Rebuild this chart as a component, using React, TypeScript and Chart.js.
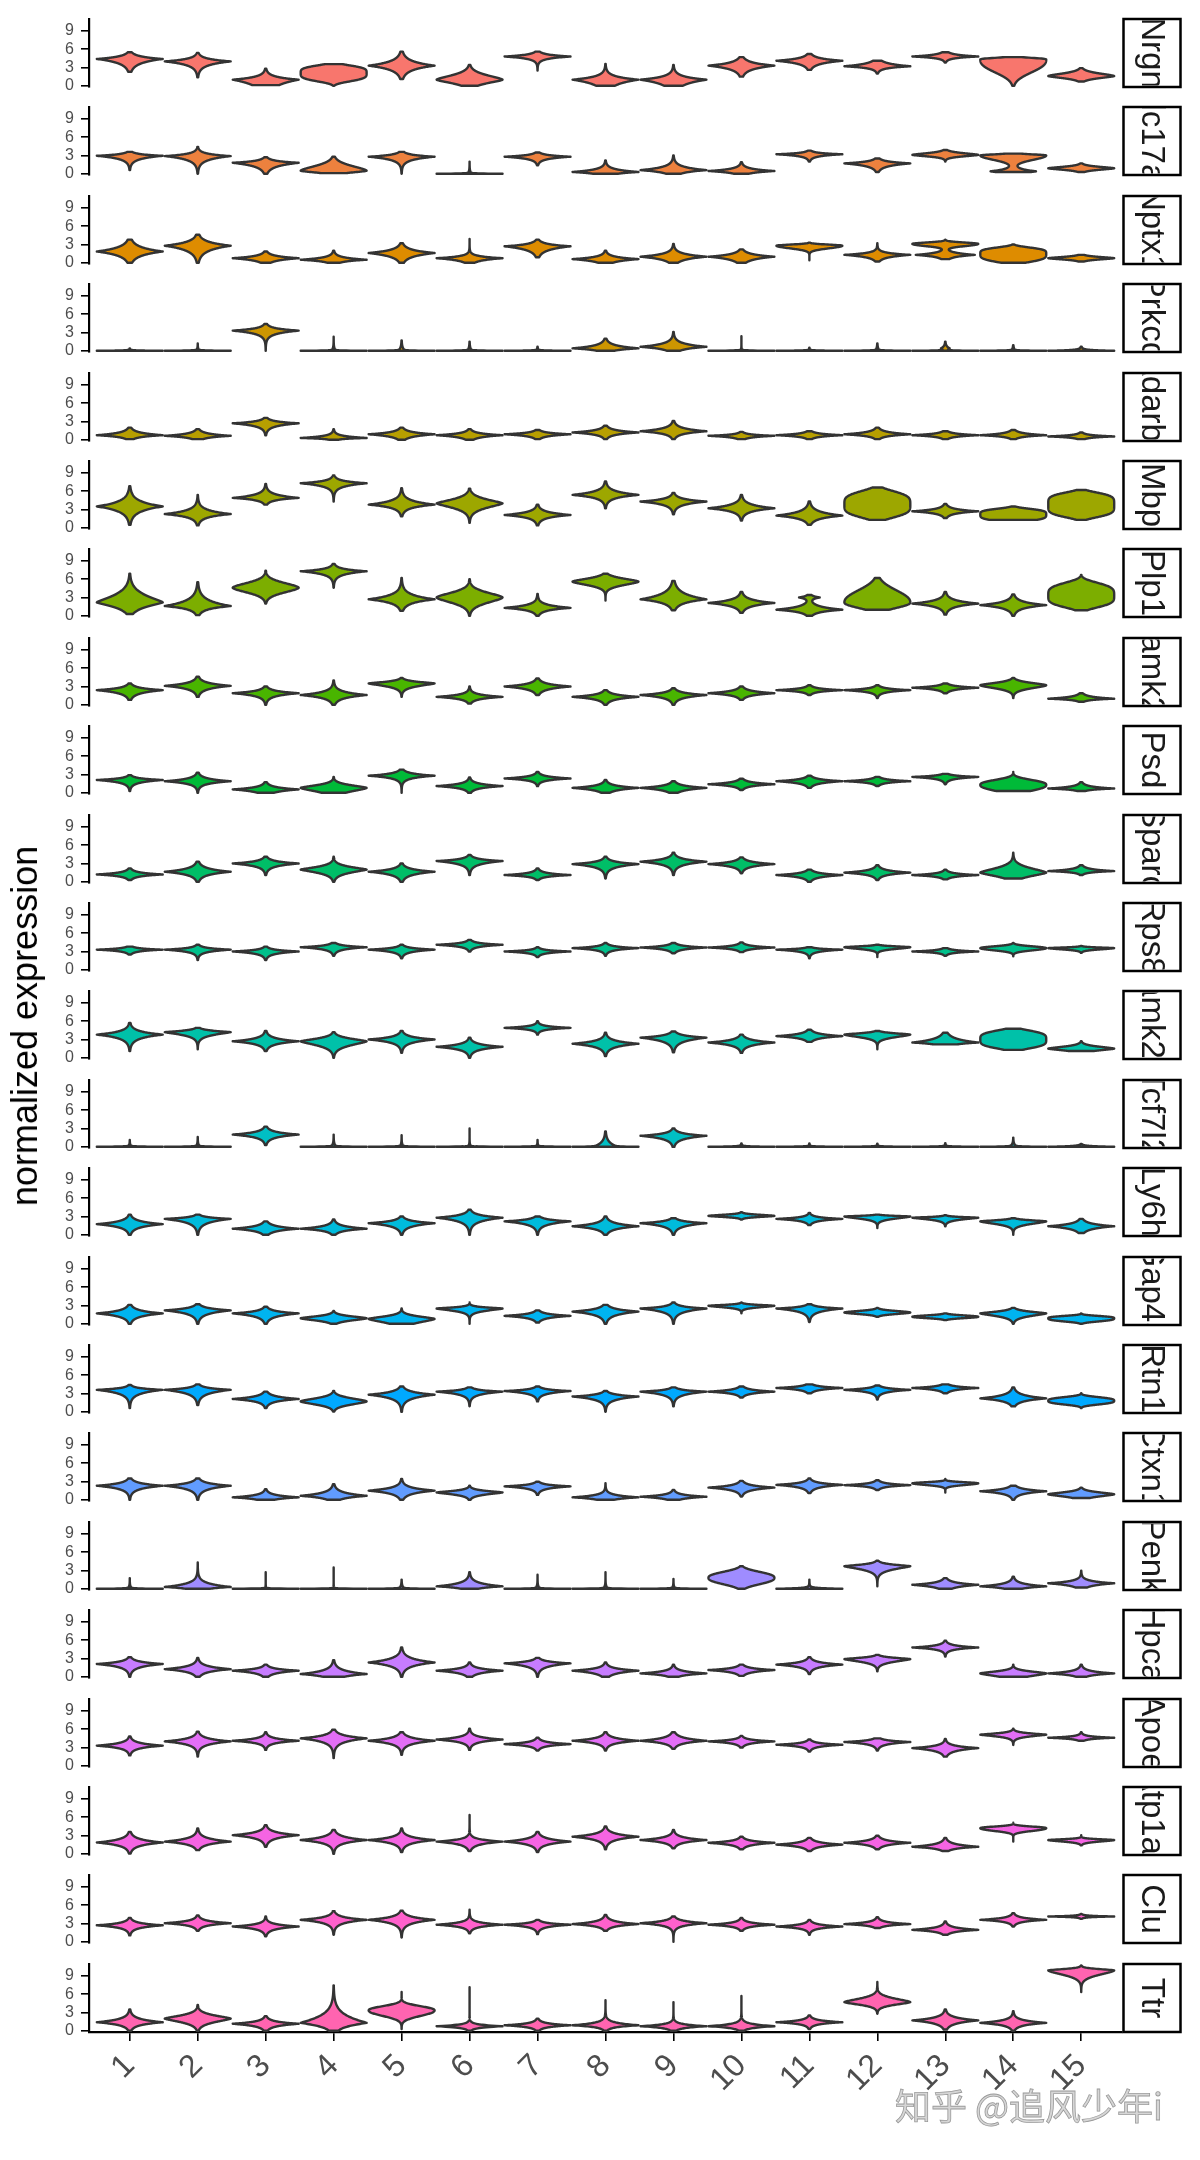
import React, { useEffect, useRef } from "react";
import { Chart, registerables } from "chart.js";
Chart.register(...registerables);

// ---------- data ----------
const CLUSTERS = ["1", "2", "3", "4", "5", "6", "7", "8", "9", "10", "11", "12", "13", "14", "15"];
const GENES = ["Nrgn", "Slc17a7", "Nptx1", "Prkcd", "Adarb1", "Mbp", "Plp1", "Camk2a", "Psd", "Sparc", "Rps8", "Camk2n1",
  "Tcf7l2", "Ly6h", "Gap43", "Rtn1", "Ctxn1", "Penk", "Hpca", "Apoe", "Atp1a2", "Clu", "Ttr"];
const Y_TICKS = [0, 3, 6, 9];
const Y_LABEL = "normalized expression";

// each violin: [min, mode, max, spreadBelow, spreadAbove, sharpness?, mode2?, spread2?, weight2?]
const NRGN = [[2.3, 4.4, 5.5, 0.7, 0.4], [1.4, 4.0, 5.4, 0.6, 0.4], [0.1, 1.0, 2.8, 1.0, 0.45], [0, 2.1, 3.55, 1.5, 1.35, 4], [1.1, 3.3, 5.6, 0.7, 0.7],
  [0, 1.0, 3.4, 0.8, 1.0, 1.5], [2.5, 4.8, 5.6, 0.35, 0.3], [0, 1.0, 3.6, 0.8, 0.5], [0, 1.0, 3.4, 0.8, 0.5], [1.5, 3.3, 4.7, 0.6, 0.5],
  [2.6, 4.1, 5.2, 0.5, 0.4], [2.0, 3.2, 4.1, 0.3, 0.45], [3.8, 4.8, 5.5, 0.25, 0.3], [0, 4.3, 4.7, 2.6, 0.35, 2.5], [0.7, 1.6, 2.9, 0.5, 0.6, 1.5]];
const SLC17A7 = [[0.6, 2.95, 3.6, 0.5, 0.25], [0, 2.9, 4.4, 0.6, 0.35], [0, 1.8, 2.7, 0.6, 0.3], [0.1, 0.5, 2.8, 0.4, 1.1, 1.6], [0, 2.8, 3.6, 0.5, 0.3],
  [0, 0, 2.0, 0.05, 0.04, 1, 0, 0.35, 0.08], [1.4, 2.8, 3.5, 0.35, 0.25], [0, 0.3, 2.2, 0.3, 0.4], [0, 0.6, 3.0, 0.4, 0.5], [0, 0.45, 1.9, 0.3, 0.35],
  [2.0, 3.2, 3.8, 0.3, 0.2], [0.3, 1.7, 2.5, 0.45, 0.3], [2.0, 3.1, 3.9, 0.35, 0.4, 1.5], [0.3, 3.0, 3.3, 1.0, 0.25, 2, 0.4, 0.4, 0.7], [0.3, 0.9, 1.7, 0.35, 0.35, 1.5]];
const NPTX1 = [[0, 1.85, 3.8, 0.7, 0.7], [0, 2.8, 4.6, 0.8, 0.6], [0, 0.75, 1.85, 0.4, 0.35], [0, 0.5, 2.0, 0.3, 0.35], [0, 1.6, 3.2, 0.6, 0.5],
  [0, 0.75, 3.9, 0.4, 0.3], [0.9, 2.7, 3.8, 0.6, 0.35], [0, 0.6, 2.0, 0.4, 0.35], [0, 1.0, 3.1, 0.5, 0.45], [0, 1.0, 2.2, 0.5, 0.4],
  [0.4, 2.8, 3.3, 0.6, 0.25, 2], [0.2, 1.3, 3.2, 0.4, 0.3], [0.6, 3.1, 3.8, 0.5, 0.3, 2, 1.3, 0.35, 0.9], [0, 1.5, 3.0, 1.5, 1.1, 4], [0.2, 0.75, 1.3, 0.3, 0.3, 1.5]];
const PRKCD = [[0, 0, 0.4, 0.05, 0.04, 1, 0, 0.15, 0.08], [0, 0, 1.2, 0.05, 0.04, 1, 0, 0.25, 0.08], [0, 3.3, 4.4, 0.5, 0.35], [0, 0, 2.3, 0.05, 0.04, 1, 0, 0.4, 0.08], [0, 0, 1.7, 0.05, 0.04, 1, 0, 0.5, 0.12],
  [0, 0, 1.5, 0.05, 0.04, 1, 0, 0.45, 0.08], [0, 0, 0.65, 0.05, 0.04, 1, 0, 0.25, 0.06], [0, 0.4, 2.0, 0.3, 0.45], [0, 0.65, 3.1, 0.4, 0.5], [0, 0, 2.4, 0.05, 0.04, 1, 0, 0.2, 0.05],
  [0, 0, 0.5, 0.05, 0.04, 1, 0, 0.2, 0.05], [0, 0, 1.2, 0.05, 0.04, 1, 0, 0.4, 0.08], [0, 0, 1.5, 0.05, 0.04, 1, 0.4, 0.35, 0.14], [0, 0, 0.9, 0.05, 0.04, 1, 0, 0.35, 0.08], [0, 0, 0.65, 0.05, 0.1, 1, 0, 0.3, 0.15]];
const ADARB1 = [[0.1, 0.75, 2.0, 0.3, 0.4], [0.1, 0.65, 1.75, 0.3, 0.35], [0.75, 2.7, 3.6, 0.45, 0.3], [0, 0.3, 1.75, 0.15, 0.3], [0, 0.9, 2.0, 0.4, 0.35],
  [0, 0.75, 1.75, 0.35, 0.3], [0.1, 0.9, 1.6, 0.3, 0.25], [0.1, 1.2, 2.3, 0.35, 0.35], [0.1, 1.4, 3.1, 0.4, 0.45], [0.1, 0.65, 1.3, 0.25, 0.2],
  [0.1, 0.75, 1.4, 0.25, 0.25], [0.1, 0.9, 2.0, 0.3, 0.35], [0.1, 0.75, 1.4, 0.25, 0.25], [0.1, 0.75, 1.6, 0.25, 0.3], [0.1, 0.55, 1.2, 0.2, 0.2]];
const MBP = [[0.5, 3.5, 6.8, 0.8, 0.8], [0.4, 2.25, 5.4, 0.5, 0.6], [3.8, 4.9, 7.2, 0.35, 0.5], [4.3, 7.3, 8.6, 0.5, 0.35], [1.9, 3.8, 6.5, 0.5, 0.6],
  [0.8, 4.0, 6.4, 1.0, 0.9, 1.4], [0.4, 2.1, 3.8, 0.45, 0.45], [3.2, 5.4, 7.6, 0.5, 0.55], [2.2, 4.3, 5.7, 0.5, 0.4], [1.2, 3.2, 5.4, 0.5, 0.55],
  [0.5, 2.0, 4.3, 0.5, 0.6], [1.3, 3.8, 6.6, 2.3, 2.4, 4], [1.6, 2.7, 3.9, 0.35, 0.35], [1.3, 2.2, 3.5, 1.2, 1.0, 4], [1.3, 3.8, 6.2, 2.2, 2.1, 5]];
const PLP1 = [[0.3, 2.2, 6.9, 1.0, 1.5, 1.3], [0.1, 1.6, 5.5, 0.5, 0.9], [2.0, 4.6, 7.4, 1.1, 1.1, 1.7], [4.6, 7.3, 8.5, 0.5, 0.35], [0.8, 2.7, 6.2, 0.6, 0.7],
  [0, 3.0, 6.0, 1.2, 1.1, 1.6], [0, 1.3, 3.6, 0.4, 0.45], [2.5, 5.6, 6.9, 0.8, 0.7, 1.6], [0.9, 2.7, 5.7, 0.6, 0.9], [0.5, 2.1, 3.9, 0.5, 0.5],
  [0, 1.0, 3.4, 0.4, 0.5, 1, 3.0, 0.25, 0.3], [1.0, 2.2, 6.2, 1.2, 2.6, 2.2], [0.2, 2.0, 3.9, 0.5, 0.5], [0, 1.75, 3.5, 0.5, 0.5], [0.9, 3.3, 6.7, 2.1, 2.3, 4]];
const CAMK2A = [[0.8, 2.4, 3.5, 0.5, 0.35], [1.3, 3.1, 4.6, 0.5, 0.45], [0, 1.9, 3.0, 0.45, 0.35], [0, 1.6, 4.0, 0.5, 0.5], [1.3, 3.5, 4.4, 0.6, 0.35, 1.3],
  [0.2, 1.3, 3.0, 0.35, 0.35], [1.6, 3.0, 4.3, 0.45, 0.4], [0, 1.3, 2.4, 0.4, 0.35], [0, 1.6, 2.7, 0.45, 0.35], [0.8, 1.9, 3.0, 0.35, 0.35],
  [1.6, 2.4, 3.2, 0.25, 0.25], [1.1, 2.4, 3.2, 0.3, 0.25], [1.9, 2.8, 3.5, 0.3, 0.25], [1.1, 3.2, 4.4, 0.7, 0.55, 1.6], [0.5, 1.0, 1.9, 0.2, 0.3]];
const PSD = [[0.3, 2.1, 2.9, 0.4, 0.25], [0, 1.9, 3.3, 0.4, 0.4], [0, 0.55, 1.75, 0.4, 0.35], [0, 0.8, 2.6, 0.8, 0.6, 1.5], [0, 2.8, 3.8, 0.4, 0.35],
  [0, 1.1, 2.5, 0.35, 0.35], [1.1, 2.35, 3.4, 0.3, 0.3], [0, 0.8, 2.1, 0.4, 0.35], [0, 0.8, 1.9, 0.4, 0.35], [0.45, 1.4, 2.3, 0.3, 0.3],
  [0.8, 1.9, 2.8, 0.35, 0.3], [1.1, 1.9, 2.6, 0.25, 0.25], [1.4, 2.6, 3.1, 0.3, 0.2], [0.3, 1.3, 3.4, 1.2, 1.0, 2.5], [0.3, 0.7, 1.75, 0.2, 0.3]];
const SPARC = [[0.3, 1.2, 2.2, 0.3, 0.3], [0, 1.65, 3.3, 0.5, 0.5], [1.1, 3.0, 4.1, 0.45, 0.35], [0, 2.0, 4.1, 0.7, 0.6, 1.3], [0, 1.65, 3.0, 0.5, 0.4],
  [1.1, 3.4, 4.4, 0.5, 0.3], [0.3, 1.1, 2.2, 0.25, 0.3], [0.55, 2.9, 4.1, 0.5, 0.35], [1.1, 3.3, 4.75, 0.5, 0.4], [1.4, 2.9, 4.0, 0.4, 0.35],
  [0, 1.1, 2.0, 0.35, 0.3], [0.3, 1.5, 2.7, 0.35, 0.35], [0.4, 1.1, 2.0, 0.25, 0.25], [0.55, 1.5, 4.75, 0.8, 1.0, 1.5], [1.1, 1.75, 2.7, 0.2, 0.3]];
const RPS8 = [[2.5, 3.3, 3.8, 0.25, 0.2], [1.6, 3.3, 4.1, 0.35, 0.25], [1.6, 3.0, 3.8, 0.35, 0.25], [2.3, 3.7, 4.4, 0.35, 0.25], [1.9, 3.3, 4.1, 0.35, 0.25],
  [3.0, 4.1, 4.9, 0.3, 0.25], [2.1, 3.0, 3.7, 0.25, 0.2], [2.3, 3.55, 4.4, 0.3, 0.25], [2.7, 3.65, 4.4, 0.3, 0.25], [2.9, 3.65, 4.5, 0.25, 0.25],
  [1.9, 3.3, 3.7, 0.3, 0.15], [2.1, 3.7, 4.1, 0.4, 0.2, 1.6], [2.3, 3.0, 3.55, 0.2, 0.2], [2.2, 3.55, 4.4, 0.5, 0.4, 2], [2.8, 3.55, 3.9, 0.3, 0.15, 1.6]];
const CAMK2N1 = [[1.1, 3.8, 5.7, 0.6, 0.5], [1.4, 4.2, 4.9, 0.6, 0.3, 1.2], [1.1, 2.7, 4.4, 0.45, 0.45], [0, 2.7, 4.2, 0.9, 0.6, 1.4], [0.8, 3.0, 4.4, 0.5, 0.4],
  [0, 1.8, 3.3, 0.45, 0.4], [3.8, 4.9, 6.0, 0.25, 0.25], [0.3, 2.3, 4.1, 0.5, 0.45], [0.9, 3.3, 4.3, 0.6, 0.35], [0.8, 2.5, 3.8, 0.45, 0.4],
  [2.6, 3.55, 4.6, 0.35, 0.35], [1.4, 3.8, 4.4, 0.6, 0.3, 1.5], [2.2, 2.5, 4.1, 0.3, 0.6], [1.3, 3.0, 4.75, 1.6, 1.6, 4], [1.1, 1.5, 2.7, 0.4, 0.45, 1.5]];
const TCF7L2 = [[0, 0, 1.1, 0.05, 0.04, 1, 0, 0.25, 0.08], [0, 0, 1.6, 0.05, 0.04, 1, 0, 0.35, 0.08], [0.3, 2.0, 3.3, 0.45, 0.4], [0, 0, 2.0, 0.05, 0.04, 1, 0, 0.4, 0.1], [0, 0, 1.9, 0.05, 0.04, 1, 0, 0.35, 0.08],
  [0, 0, 3.0, 0.05, 0.04, 1, 0, 0.3, 0.06], [0, 0, 1.1, 0.05, 0.04, 1, 0, 0.25, 0.06], [0, 0, 2.5, 0.05, 0.04, 1, 0, 0.7, 0.6], [0, 1.8, 3.0, 0.5, 0.35], [0, 0, 0.55, 0.05, 0.05, 1, 0, 0.2, 0.1],
  [0, 0, 0.55, 0.05, 0.04, 1, 0, 0.2, 0.06], [0, 0, 0.5, 0.05, 0.04, 1, 0, 0.2, 0.06], [0, 0, 0.6, 0.05, 0.04, 1, 0, 0.2, 0.08], [0, 0, 1.5, 0.05, 0.04, 1, 0, 0.35, 0.15], [0, 0, 0.45, 0.05, 0.1, 1, 0, 0.2, 0.1]];
const LY6H = [[0, 1.75, 3.3, 0.5, 0.45], [0, 2.6, 3.3, 0.6, 0.25], [0, 1.0, 2.2, 0.4, 0.4], [0, 1.0, 2.5, 0.35, 0.4], [0, 1.9, 3.0, 0.5, 0.35],
  [0, 2.8, 4.1, 0.6, 0.4], [0, 2.2, 3.0, 0.5, 0.3], [0, 1.4, 3.0, 0.45, 0.45], [0, 1.9, 2.7, 0.5, 0.3], [2.5, 3.1, 3.7, 0.25, 0.25, 1.6],
  [1.6, 2.6, 3.6, 0.3, 0.25], [1.1, 3.0, 3.3, 0.5, 0.15, 1.5], [1.4, 2.8, 3.2, 0.4, 0.15, 1.3], [0, 2.2, 2.7, 0.6, 0.25, 1.5], [0.3, 1.4, 2.6, 0.45, 0.4]];
const GAP43 = [[0, 1.7, 3.1, 0.5, 0.45], [0, 2.2, 3.2, 0.55, 0.35], [0, 1.7, 2.8, 0.5, 0.35], [0, 0.9, 2.1, 0.5, 0.45, 1.5], [0, 0.8, 2.5, 0.8, 0.55, 1.5],
  [0, 2.5, 3.5, 0.5, 0.25, 1.3], [0.2, 1.3, 2.2, 0.35, 0.3], [0, 2.0, 3.1, 0.55, 0.4], [0, 2.5, 3.5, 0.55, 0.3], [1.7, 2.95, 3.5, 0.35, 0.2, 1.5],
  [0.3, 2.5, 3.2, 0.5, 0.25], [1.15, 1.85, 2.6, 0.35, 0.35, 1.8], [0.6, 1.15, 1.7, 0.3, 0.3, 2], [0, 1.7, 2.6, 0.6, 0.4, 1.4], [0, 0.9, 1.7, 0.6, 0.45, 3]];
const RTN1 = [[0.6, 3.6, 4.4, 0.6, 0.25], [1.1, 3.6, 4.5, 0.6, 0.3], [0.6, 2.1, 3.3, 0.4, 0.4], [0.05, 1.7, 3.4, 0.7, 0.7, 1.6], [0, 2.8, 4.15, 0.6, 0.45],
  [0.9, 3.3, 4.0, 0.45, 0.25], [1.7, 3.4, 4.15, 0.4, 0.25], [0, 2.5, 3.4, 0.5, 0.3], [0.9, 3.3, 4.0, 0.5, 0.25], [2.35, 3.3, 4.15, 0.3, 0.3],
  [3.05, 3.9, 4.5, 0.3, 0.25], [2.0, 3.6, 4.3, 0.35, 0.25], [3.05, 3.9, 4.5, 0.3, 0.25], [0.9, 2.2, 4.0, 0.45, 0.5], [0.6, 1.8, 3.05, 0.7, 0.7, 3]];
const CTXN1 = [[0, 2.3, 3.5, 0.5, 0.4], [0, 2.3, 3.5, 0.55, 0.4], [0, 0.4, 1.75, 0.3, 0.35], [0, 0.65, 2.55, 0.4, 0.5], [0, 1.5, 3.4, 0.5, 0.45],
  [0, 1.2, 2.3, 0.45, 0.35, 1.3], [0.8, 2.2, 2.95, 0.35, 0.25], [0, 0.4, 2.7, 0.3, 0.35], [0, 0.5, 1.6, 0.3, 0.3], [0.55, 2.0, 3.1, 0.4, 0.35],
  [1.1, 2.45, 3.5, 0.4, 0.3], [1.6, 2.4, 3.2, 0.25, 0.25], [1.2, 2.7, 3.4, 0.4, 0.25, 1.8], [0, 1.4, 2.3, 0.4, 0.35], [0.3, 0.9, 2.0, 0.5, 0.45, 1.5]];
const PENK = [[0, 0, 1.75, 0.05, 0.04, 1, 0, 0.3, 0.1], [0, 0.3, 4.3, 0.3, 0.55], [0, 0, 2.7, 0.05, 0.04, 1, 0, 0.2, 0.04], [0, 0, 3.5, 0.05, 0.04, 1, 0, 0.2, 0.04], [0, 0, 1.5, 0.05, 0.04, 1, 0, 0.35, 0.12],
  [0, 0.4, 2.7, 0.3, 0.5], [0, 0, 2.3, 0.05, 0.04, 1, 0, 0.35, 0.1], [0, 0, 2.7, 0.05, 0.04, 1, 0, 0.35, 0.1], [0, 0, 1.6, 0.05, 0.04, 1, 0, 0.3, 0.08], [0, 1.8, 3.7, 1.3, 1.2, 2.5],
  [0, 0, 1.5, 0.05, 0.1, 1, 0, 0.3, 0.1], [0.4, 3.7, 4.6, 0.7, 0.35, 1.3], [0, 0.65, 1.75, 0.4, 0.35], [0, 0.4, 2.0, 0.3, 0.4], [0.2, 0.9, 2.95, 0.4, 0.35]];
const HPCA = [[0, 2.1, 3.2, 0.5, 0.35], [0, 1.25, 3.1, 0.45, 0.45], [0, 1.0, 2.0, 0.4, 0.3], [0, 0.45, 2.7, 0.4, 0.55], [0, 2.35, 4.8, 0.6, 0.6],
  [0, 1.0, 2.35, 0.4, 0.35], [0, 2.2, 3.1, 0.5, 0.3], [0, 1.0, 2.35, 0.45, 0.35], [0, 0.55, 2.0, 0.3, 0.35], [0.15, 1.1, 2.0, 0.35, 0.3],
  [0.45, 2.0, 3.2, 0.4, 0.35], [0.9, 2.9, 3.6, 0.6, 0.3, 1.4], [3.3, 4.8, 5.9, 0.3, 0.3], [0, 0.55, 2.0, 0.6, 0.45, 1.5], [0, 0.55, 2.0, 0.3, 0.35]];
const APOE = [[1.7, 3.3, 4.8, 0.4, 0.4], [1.5, 4.0, 5.6, 0.5, 0.45], [2.6, 4.1, 5.5, 0.35, 0.35], [1.25, 4.5, 5.9, 0.6, 0.45], [1.8, 4.1, 5.5, 0.5, 0.45],
  [2.6, 4.3, 6.1, 0.4, 0.4], [2.5, 3.55, 4.6, 0.3, 0.3], [2.5, 4.1, 5.5, 0.4, 0.4], [2.8, 4.1, 5.5, 0.4, 0.45], [3.0, 4.0, 4.9, 0.3, 0.25],
  [2.35, 3.45, 4.3, 0.3, 0.25], [2.5, 3.9, 4.5, 0.35, 0.25], [1.5, 2.9, 4.4, 0.45, 0.35], [3.4, 5.1, 6.1, 0.4, 0.3, 1.3], [4.1, 4.6, 5.5, 0.2, 0.2]];
const ATP1A2 = [[0.05, 1.85, 3.6, 0.5, 0.5], [0.6, 2.0, 4.15, 0.45, 0.5], [1.15, 3.05, 4.7, 0.5, 0.45], [0, 2.25, 3.9, 0.5, 0.5], [0.3, 2.25, 4.15, 0.5, 0.45],
  [0.45, 2.0, 6.35, 0.45, 0.35], [0.3, 2.0, 3.6, 0.45, 0.45], [0.75, 2.8, 4.5, 0.5, 0.45], [0.9, 2.25, 3.9, 0.4, 0.4], [0.75, 1.8, 2.8, 0.35, 0.3],
  [0.45, 1.5, 2.6, 0.35, 0.35], [0.75, 1.8, 2.95, 0.35, 0.35], [0.45, 1.15, 2.6, 0.3, 0.4], [2.0, 4.2, 5.1, 0.6, 0.35, 2.2], [1.4, 2.25, 3.05, 0.35, 0.2, 1.6]];
const CLU = [[1.05, 2.7, 3.9, 0.4, 0.35], [1.8, 3.05, 4.3, 0.35, 0.35], [0.9, 2.5, 4.15, 0.4, 0.35], [1.15, 3.6, 5.0, 0.5, 0.4], [0.7, 3.6, 5.1, 0.55, 0.45],
  [1.4, 2.8, 5.25, 0.35, 0.35], [1.25, 2.8, 3.6, 0.35, 0.25], [1.8, 2.9, 4.4, 0.35, 0.4], [0, 3.05, 4.15, 0.4, 0.35], [1.8, 2.8, 3.9, 0.3, 0.3],
  [1.15, 2.5, 3.6, 0.3, 0.3], [2.25, 2.9, 4.05, 0.25, 0.3], [1.15, 1.95, 3.35, 0.3, 0.35], [2.5, 3.6, 4.7, 0.3, 0.3], [3.75, 4.15, 4.55, 0.1, 0.1]];
const TTR = [[0, 1.4, 3.5, 0.45, 0.5], [0, 2.0, 4.25, 0.8, 0.7, 1.4], [0, 1.15, 2.4, 0.4, 0.35], [0, 1.3, 7.45, 0.7, 1.3, 1.1], [0.3, 3.35, 6.35, 1.2, 0.9, 2.2],
  [0, 0.75, 7.15, 0.25, 0.25], [0, 0.9, 2.0, 0.3, 0.3], [0, 0.9, 5.0, 0.3, 0.4], [0, 0.75, 4.7, 0.3, 0.3], [0, 0.75, 5.7, 0.3, 0.35],
  [0.3, 1.4, 2.5, 0.3, 0.3], [2.8, 4.7, 8.0, 0.6, 0.8, 1.5], [0.2, 1.7, 3.5, 0.5, 0.45], [0, 1.3, 3.2, 0.4, 0.4], [6.35, 9.9, 10.7, 1.0, 0.3, 1.6]];

const VIOLINS = [NRGN, SLC17A7, NPTX1, PRKCD, ADARB1, MBP, PLP1, CAMK2A, PSD, SPARC, RPS8, CAMK2N1,
  TCF7L2, LY6H, GAP43, RTN1, CTXN1, PENK, HPCA, APOE, ATP1A2, CLU, TTR];

// ---------- style ----------
const FONT = "'Liberation Sans', Arial, sans-serif";
const PANEL_TOP = 19;
const PITCH = 88.4;
const PANEL_H = 68;
const PAD = 10;
const LEFT_W = 89;
const RIGHT_W = 78;
const X_AXIS_H = 80;

function hcl(h: number, c: number, l: number): string {
  const hr = (h * Math.PI) / 180;
  const U = c * Math.cos(hr), V = c * Math.sin(hr);
  const Xn = 95.047, Yn = 100, Zn = 108.883;
  const un = (4 * Xn) / (Xn + 15 * Yn + 3 * Zn);
  const vn = (9 * Yn) / (Xn + 15 * Yn + 3 * Zn);
  const Y = Yn * (l > 8 ? Math.pow((l + 16) / 116, 3) : l / 903.3);
  const u = U / (13 * l) + un, v = V / (13 * l) + vn;
  const X = (9 * Y * u) / (4 * v);
  const Z = (Y * (12 - 3 * u - 20 * v)) / (4 * v);
  const x = X / 100, y = Y / 100, z = Z / 100;
  const lin = [
    3.240479 * x - 1.53715 * y - 0.498535 * z,
    -0.969256 * x + 1.875992 * y + 0.041556 * z,
    0.055648 * x - 0.204043 * y + 1.057311 * z,
  ];
  const hex = lin.map((t) => {
    let g = t <= 0.0031308 ? 12.92 * t : 1.055 * Math.pow(t, 1 / 2.4) - 0.055;
    g = Math.max(0, Math.min(1, g));
    return Math.round(g * 255).toString(16).padStart(2, "0");
  });
  return "#" + hex.join("");
}

const COLORS = GENES.map((_, i) => hcl(15 + 15 * i, 100, 65));

function violinWidth(yv: number, v: number[]): number {
  const [, m, , sd, su, p = 1, m2 = 0, s2 = 0, a2 = 0] = v;
  const d = yv - m;
  const s = d < 0 ? sd : su;
  let w = Math.exp(-Math.pow(Math.abs(d) / Math.max(s, 1e-3), p));
  if (a2 > 0) w += a2 * Math.exp(-Math.abs(yv - m2) / s2);
  return w;
}

const violinPlugin = {
  id: "violins",
  afterDatasetsDraw(chart: any, _a: any, opts: any) {
    const { ctx, scales } = chart;
    const xs = scales.x, ys = scales.y;
    const rows: number[][] = opts.rows;
    const unit = Math.abs(xs.getPixelForValue(2) - xs.getPixelForValue(1));
    ctx.save();
    rows.forEach((v, j) => {
      const cx = xs.getPixelForValue(j + 1);
      const [lo, m, hi] = v;
      const n = 160;
      const pts: number[] = [];
      for (let k = 0; k <= n; k++) pts.push(lo + ((hi - lo) * k) / n);
      if (m > lo && m < hi) pts.push(m);
      pts.sort((a, b) => a - b);
      const ws = pts.map((p) => violinWidth(p, v));
      const mx = Math.max(...ws);
      const half = 0.485 * unit;
      ctx.beginPath();
      pts.forEach((p, k) => {
        const px = cx + (ws[k] / mx) * half;
        const py = ys.getPixelForValue(p);
        if (k === 0) ctx.moveTo(px, py);
        else ctx.lineTo(px, py);
      });
      for (let k = pts.length - 1; k >= 0; k--) {
        ctx.lineTo(cx - (ws[k] / mx) * half, ys.getPixelForValue(pts[k]));
      }
      ctx.closePath();
      ctx.fillStyle = opts.color;
      ctx.fill();
      ctx.lineWidth = 2.4;
      ctx.lineJoin = "round";
      ctx.strokeStyle = "#333333";
      ctx.stroke();
    });
    ctx.restore();
  },
};

const stripPlugin = {
  id: "strip",
  afterDraw(chart: any, _a: any, opts: any) {
    const { ctx, chartArea } = chart;
    const x0 = chartArea.right + 1.5;
    const w = 57;
    const y0 = chartArea.top;
    const h = chartArea.bottom - chartArea.top;
    ctx.save();
    ctx.lineWidth = 2.5;
    ctx.strokeStyle = "#000";
    ctx.fillStyle = "#fff";
    ctx.fillRect(x0, y0, w, h);
    ctx.strokeRect(x0, y0, w, h);
    ctx.beginPath();
    ctx.rect(x0 + 1.5, y0 + 1.5, w - 3, h - 3);
    ctx.clip();
    ctx.translate(x0 + w / 2, y0 + h / 2);
    ctx.rotate(Math.PI / 2);
    ctx.fillStyle = "#1A1A1A";
    ctx.font = `33px ${FONT}`;
    ctx.textAlign = "center";
    ctx.textBaseline = "middle";
    ctx.fillText(opts.label, 0, 1);
    ctx.restore();
  },
};

function Panel({ index }: { index: number }) {
  const ref = useRef<HTMLCanvasElement | null>(null);
  const last = index === GENES.length - 1;
  const top = Math.round(PANEL_TOP + PITCH * index) - PAD;
  const height = PAD + PANEL_H + (last ? X_AXIS_H : PAD);

  useEffect(() => {
    if (!ref.current) return;
    const rows = VIOLINS[index];
    const xScale: any = {
      type: "linear",
      min: 0.4,
      max: 15.6,
      display: last,
      afterBuildTicks: (s: any) => {
        s.ticks = CLUSTERS.map((_, j) => ({ value: j + 1 }));
      },
      ticks: {
        autoSkip: false,
        maxRotation: 45,
        minRotation: 45,
        color: "#4D4D4D",
        font: { size: 32, family: FONT },
        padding: 6,
        callback: (val: any) => CLUSTERS[Math.round(val) - 1] ?? "",
      },
      grid: { display: true, drawOnChartArea: false, drawTicks: true, tickLength: 9, color: "#000", tickColor: "#000", lineWidth: 1.6 },
      border: { display: true, color: "#000", width: 2.2 },
    };
    if (last) {
      xScale.afterFit = (s: any) => {
        s.height = X_AXIS_H;
        s.paddingLeft = 0;
        s.paddingRight = 0;
      };
    }
    const chart = new Chart(ref.current, {
      type: "scatter",
      data: {
        datasets: [
          {
            data: rows.map((v, j) => ({ x: j + 1, y: v[1] })),
            pointRadius: 0,
            showLine: false,
          },
        ],
      },
      plugins: [violinPlugin, stripPlugin],
      options: {
        animation: false,
        responsive: false,
        maintainAspectRatio: false,
        events: [],
        layout: { padding: { top: PAD, bottom: last ? 0 : PAD, left: 0, right: RIGHT_W } },
        plugins: {
          legend: { display: false },
          tooltip: { enabled: false },
          violins: { rows, color: COLORS[index] },
          strip: { label: GENES[index] },
        } as any,
        scales: {
          x: xScale,
          y: {
            type: "linear",
            min: -0.2,
            max: 10.95,
            afterBuildTicks: (s: any) => {
              s.ticks = Y_TICKS.map((v) => ({ value: v }));
            },
            afterFit: (s: any) => {
              s.width = LEFT_W;
              s.paddingTop = 0;
              s.paddingBottom = 0;
            },
            ticks: {
              autoSkip: false,
              color: "#4D4D4D",
              font: { size: 16, family: FONT },
              padding: 7,
            },
            grid: { display: true, drawOnChartArea: false, drawTicks: true, tickLength: 8, color: "#000", tickColor: "#000", lineWidth: 1.6 },
            border: { display: true, color: "#000", width: 2.2 },
          },
        },
      } as any,
    });
    return () => chart.destroy();
  }, [index]);

  return (
    <div style={{ position: "absolute", left: 0, top, width: 1200, height }}>
      <canvas ref={ref} width={1200} height={height} style={{ width: 1200, height, display: "block" }} />
    </div>
  );
}

export default function App() {
  return (
    <div style={{ position: "absolute", left: 0, top: 0, width: 1200, height: 2160, background: "#fff", overflow: "hidden" }}>
      {GENES.map((g, i) => (
        <Panel key={g} index={i} />
      ))}
      <div
        style={{
          position: "absolute",
          left: 25,
          top: 1026,
          transform: "translate(-50%, -50%) rotate(-90deg)",
          fontFamily: FONT,
          fontSize: 36,
          color: "#000",
          whiteSpace: "nowrap",
          lineHeight: 1,
        }}
      >
        {Y_LABEL}
      </div>
      <div
        style={{
          position: "absolute",
          left: 895,
          top: 2086,
          fontFamily: "'Noto Sans CJK SC', sans-serif",
          fontSize: 36,
          color: "#d6d6d6",
          WebkitTextStroke: "0.8px #9a9a9a",
          whiteSpace: "nowrap",
          lineHeight: 1,
        }}
      >
        知乎 @追风少年i
      </div>
    </div>
  );
}
